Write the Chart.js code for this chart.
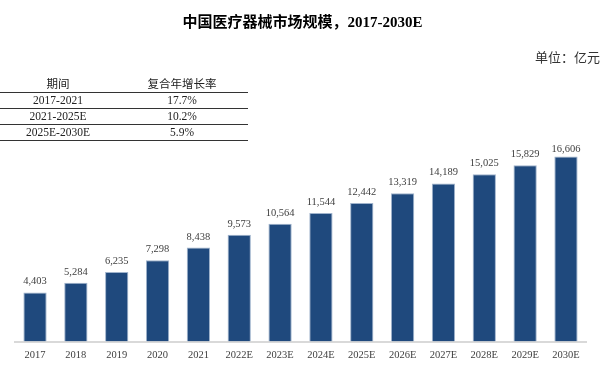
<!DOCTYPE html>
<html>
<head>
<meta charset="utf-8">
<script src="https://cdn.jsdelivr.net/npm/chart.js@4.4.1/dist/chart.umd.min.js"></script>
<style>
  body { margin: 0; background: #fff; }
  #wrap { position: relative; width: 605px; height: 368px; overflow: hidden; }
  #c { position: absolute; left: 0; top: 0; }
  #title {
    position: absolute; left: 0; width: 605px; top: 12px; text-align: center;
    font: bold 15px "Liberation Serif", "Noto Sans CJK SC", serif; color: #000;
    line-height: 20px;
  }
  #unit {
    position: absolute; right: 5px; top: 49px;
    font: 13px "Liberation Serif", "Noto Sans CJK SC", serif; color: #333;
    line-height: 18px;
  }
  #cagr {
    position: absolute; left: 0; top: 77px; width: 248px;
    font: 11.5px "Liberation Serif", "Noto Sans CJK SC", serif; color: #222;
  }
  #cagr .row { display: flex; height: 15px; line-height: 15px; border-bottom: 1px solid #333; }
  #cagr .c1 { width: 116px; text-align: center; }
  #cagr .c2 { width: 132px; text-align: center; }
</style>
</head>
<body>
<div id="wrap">
  <canvas id="c" width="605" height="368"></canvas>
  <div id="title">中国医疗器械市场规模，2017-2030E</div>
  <div id="unit">单位：亿元</div>
  <div id="cagr"></div>
</div>
<script>
/* ==============================
   DATA
============================== */
const years = ['2017', '2018', '2019', '2020', '2021', '2022E', '2023E',
               '2024E', '2025E', '2026E', '2027E', '2028E', '2029E', '2030E'];
const marketSize = [4403, 5284, 6235, 7298, 8438, 9573, 10564,
                    11544, 12442, 13319, 14189, 15025, 15829, 16606];

const tableHeader = ['期间', '复合年增长率'];
const periods = ['2017-2021', '2021-2025E', '2025E-2030E'];
const cagrs = ['17.7%', '10.2%', '5.9%'];

const serif = "'Liberation Serif', 'Times New Roman', serif";

/* ==============================
   CAGR TABLE
============================== */
function buildTable() {
    const box = document.getElementById('cagr');
    const rows = [tableHeader].concat(periods.map((p, i) => [p, cagrs[i]]));
    rows.forEach(r => {
        const div = document.createElement('div');
        div.className = 'row';
        div.innerHTML = `<span class="c1">${r[0]}</span><span class="c2">${r[1]}</span>`;
        box.appendChild(div);
    });
}

/* ==============================
   VALUE LABELS ABOVE BARS
============================== */
const valueLabels = {
    id: 'valueLabels',
    afterDatasetsDraw(chart) {
        const ctx = chart.ctx;
        const meta = chart.getDatasetMeta(0);
        ctx.save();
        ctx.font = `10.5px ${serif}`;
        ctx.fillStyle = '#404040';
        ctx.textAlign = 'center';
        ctx.textBaseline = 'alphabetic';
        meta.data.forEach((bar, i) => {
            const y = Math.max(bar.y - 8, chart.chartArea.top + 11);
            ctx.fillText(marketSize[i].toLocaleString('en-US'), bar.x, y);
        });
        ctx.restore();
    }
};

/* ==============================
   BAR CHART
============================== */
function renderChart() {
    const ctx = document.getElementById('c');
    new Chart(ctx.getContext('2d'), {
        type: 'bar',
        data: {
            labels: years,
            datasets: [{
                data: marketSize,
                backgroundColor: '#1f497d',
                borderColor: '#9fb3cc',
                borderWidth: 1,
                barPercentage: 0.57,
                categoryPercentage: 1
            }]
        },
        options: {
            responsive: false,
            animation: false,
            layout: { padding: { left: 14.6, right: 18.6, top: 141, bottom: 0 } },
            plugins: {
                legend: { display: false },
                tooltip: { enabled: false }
            },
            scales: {
                x: {
                    grid: { display: false, drawTicks: false },
                    border: { display: true, color: '#d9d9d9', width: 2 },
                    ticks: { color: '#404040', font: { family: serif, size: 10.5, lineHeight: 1 }, padding: 8, maxRotation: 0, autoSkip: false }
                },
                y: {
                    display: false,
                    min: 0,
                    max: 18000
                }
            }
        },
        plugins: [valueLabels]
    });
}

document.addEventListener('DOMContentLoaded', () => {
    buildTable();
    renderChart();
});
</script>
</body>
</html>
